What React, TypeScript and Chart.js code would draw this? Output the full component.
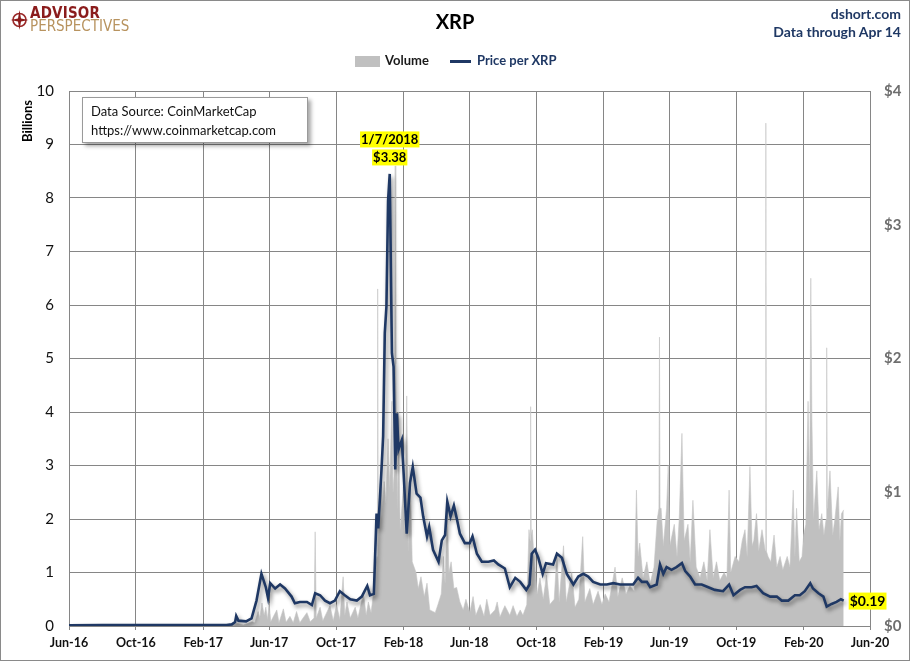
import React, { useEffect, useRef } from "react";
import { Chart, registerables } from "chart.js";

Chart.register(...registerables);

const FONT = "Lato, 'Open Sans', 'DejaVu Sans', sans-serif";
const NAVY = "#1f3864";

const tickDates = [
  "2016-06-01", "2016-10-01", "2017-02-01", "2017-06-01", "2017-10-01", "2018-02-01", "2018-06-01",
  "2018-10-01", "2019-02-01", "2019-06-01", "2019-10-01", "2020-02-01", "2020-06-01",
];
const tickLabels = [
  "Jun-16", "Oct-16", "Feb-17", "Jun-17", "Oct-17", "Feb-18", "Jun-18",
  "Oct-18", "Feb-19", "Jun-19", "Oct-19", "Feb-20", "Jun-20",
];

const priceDates = [
  "2016-06-01", "2016-08-01", "2016-10-01", "2016-12-01", "2017-02-01", "2017-03-15", "2017-03-25", "2017-03-31",
  "2017-04-02", "2017-04-06", "2017-04-20", "2017-04-30", "2017-05-09", "2017-05-18", "2017-05-26", "2017-05-30",
  "2017-06-03", "2017-06-12", "2017-06-21", "2017-06-30", "2017-07-12", "2017-07-18", "2017-07-27", "2017-08-09",
  "2017-08-18", "2017-08-24", "2017-09-02", "2017-09-11", "2017-09-20", "2017-09-29", "2017-10-08", "2017-10-17",
  "2017-10-27", "2017-11-08", "2017-11-17", "2017-11-27", "2017-12-02", "2017-12-09", "2017-12-14", "2017-12-17",
  "2017-12-23", "2017-12-26", "2017-12-29", "2018-01-01", "2018-01-04", "2018-01-07", "2018-01-11", "2018-01-14",
  "2018-01-17", "2018-01-20", "2018-01-23", "2018-01-29", "2018-02-01", "2018-02-07", "2018-02-13", "2018-02-18",
  "2018-02-25", "2018-03-04", "2018-03-09", "2018-03-16", "2018-03-20", "2018-03-27", "2018-04-06", "2018-04-12",
  "2018-04-18", "2018-04-22", "2018-04-28", "2018-05-04", "2018-05-10", "2018-05-15", "2018-05-24", "2018-06-02",
  "2018-06-07", "2018-06-15", "2018-06-24", "2018-07-06", "2018-07-16", "2018-07-24", "2018-08-05", "2018-08-14",
  "2018-08-24", "2018-09-02", "2018-09-13", "2018-09-19", "2018-09-23", "2018-09-29", "2018-10-05", "2018-10-13",
  "2018-10-19", "2018-11-01", "2018-11-08", "2018-11-17", "2018-11-26", "2018-12-08", "2018-12-17", "2018-12-26",
  "2019-01-04", "2019-01-13", "2019-01-26", "2019-02-07", "2019-02-19", "2019-03-03", "2019-03-15", "2019-03-27",
  "2019-04-05", "2019-04-12", "2019-04-21", "2019-04-27", "2019-05-09", "2019-05-15", "2019-05-21", "2019-05-27",
  "2019-06-05", "2019-06-14", "2019-06-24", "2019-06-30", "2019-07-09", "2019-07-18", "2019-07-30", "2019-08-11",
  "2019-08-23", "2019-09-07", "2019-09-18", "2019-09-26", "2019-10-08", "2019-10-17", "2019-10-29", "2019-11-07",
  "2019-11-19", "2019-12-02", "2019-12-14", "2019-12-23", "2020-01-04", "2020-01-16", "2020-01-25", "2020-02-03",
  "2020-02-13", "2020-02-18", "2020-02-28", "2020-03-08", "2020-03-14", "2020-03-23", "2020-04-01", "2020-04-09",
  "2020-04-14",
];
const priceValues = [
  0.006, 0.0065, 0.0075, 0.0065, 0.0065, 0.008, 0.012, 0.03,
  0.075, 0.04, 0.035, 0.057, 0.19, 0.39, 0.29, 0.21,
  0.32, 0.28, 0.31, 0.28, 0.22, 0.17, 0.18, 0.18,
  0.157, 0.245, 0.23, 0.19, 0.17, 0.19, 0.26, 0.23,
  0.2, 0.19, 0.22, 0.3, 0.23, 0.24, 0.84, 0.73,
  1.17, 1.42, 2.19, 2.39, 3.18, 3.38, 2.04, 1.94,
  1.17, 1.59, 1.32, 1.39, 1.17, 0.69, 1.07, 1.19,
  0.99, 0.96, 0.82, 0.67, 0.74, 0.57, 0.48, 0.64,
  0.68, 0.93, 0.82, 0.9, 0.79, 0.69, 0.62, 0.62,
  0.67, 0.54, 0.48, 0.48, 0.49, 0.46, 0.43, 0.29,
  0.36, 0.33, 0.27, 0.31, 0.54, 0.57, 0.51, 0.39,
  0.47, 0.46, 0.54, 0.51, 0.39, 0.31, 0.37, 0.39,
  0.37, 0.33, 0.31, 0.31, 0.32, 0.31, 0.31, 0.31,
  0.36, 0.33, 0.33, 0.29, 0.31, 0.46, 0.39, 0.44,
  0.42, 0.44, 0.47, 0.41, 0.37, 0.31, 0.31, 0.29,
  0.27, 0.26, 0.31, 0.23, 0.27, 0.29, 0.29, 0.3,
  0.245, 0.22, 0.22, 0.19, 0.19, 0.23, 0.23, 0.26,
  0.32, 0.28, 0.245, 0.22, 0.145, 0.165, 0.18, 0.2,
  0.19,
];

const volumeDates = [
  "2016-06-01", "2016-09-01", "2016-12-01", "2017-03-01", "2017-03-25", "2017-04-02", "2017-04-15", "2017-05-01",
  "2017-05-06", "2017-05-12", "2017-05-15", "2017-05-19", "2017-05-23", "2017-05-26", "2017-05-29", "2017-06-01",
  "2017-06-04", "2017-06-15", "2017-06-19", "2017-06-27", "2017-07-02", "2017-07-09", "2017-07-15", "2017-07-21",
  "2017-07-27", "2017-08-02", "2017-08-09", "2017-08-15", "2017-08-22", "2017-08-24", "2017-08-26", "2017-09-02",
  "2017-09-07", "2017-09-20", "2017-09-26", "2017-10-02", "2017-10-08", "2017-10-14", "2017-10-17", "2017-10-21",
  "2017-10-27", "2017-11-05", "2017-11-10", "2017-11-20", "2017-11-25", "2017-11-29", "2017-12-04", "2017-12-09",
  "2017-12-13", "2017-12-15", "2017-12-16", "2017-12-17", "2017-12-18", "2017-12-22", "2017-12-25", "2017-12-28",
  "2017-12-31", "2018-01-04", "2018-01-07", "2018-01-11", "2018-01-13", "2018-01-16", "2018-01-17", "2018-01-18",
  "2018-01-21", "2018-01-23", "2018-01-26", "2018-02-01", "2018-02-04", "2018-02-07", "2018-02-10", "2018-02-13",
  "2018-02-17", "2018-02-24", "2018-02-28", "2018-03-05", "2018-03-11", "2018-03-16", "2018-03-21", "2018-03-31",
  "2018-04-05", "2018-04-11", "2018-04-15", "2018-04-18", "2018-04-22", "2018-04-25", "2018-04-29", "2018-05-04",
  "2018-05-09", "2018-05-15", "2018-05-21", "2018-05-26", "2018-06-02", "2018-06-08", "2018-06-13", "2018-06-21",
  "2018-06-28", "2018-07-03", "2018-07-09", "2018-07-18", "2018-07-22", "2018-07-27", "2018-08-05", "2018-08-14",
  "2018-08-20", "2018-08-27", "2018-09-02", "2018-09-07", "2018-09-14", "2018-09-18", "2018-09-20", "2018-09-21",
  "2018-09-22", "2018-09-24", "2018-09-27", "2018-10-03", "2018-10-08", "2018-10-14", "2018-10-20", "2018-10-26",
  "2018-11-03", "2018-11-08", "2018-11-12", "2018-11-20", "2018-11-25", "2018-12-05", "2018-12-11", "2018-12-18",
  "2018-12-25", "2018-12-29", "2019-01-07", "2019-01-13", "2019-01-22", "2019-01-29", "2019-02-04", "2019-02-11",
  "2019-02-22", "2019-02-27", "2019-03-07", "2019-03-14", "2019-03-21", "2019-03-29", "2019-04-02", "2019-04-05",
  "2019-04-08", "2019-04-14", "2019-04-21", "2019-04-27", "2019-05-04", "2019-05-10", "2019-05-13", "2019-05-14",
  "2019-05-15", "2019-05-17", "2019-05-21", "2019-05-27", "2019-05-30", "2019-06-02", "2019-06-10", "2019-06-15",
  "2019-06-19", "2019-06-24", "2019-06-28", "2019-07-05", "2019-07-09", "2019-07-14", "2019-07-20", "2019-07-27",
  "2019-08-03", "2019-08-09", "2019-08-14", "2019-08-20", "2019-08-26", "2019-09-01", "2019-09-09", "2019-09-14",
  "2019-09-18", "2019-09-21", "2019-09-29", "2019-10-06", "2019-10-12", "2019-10-17", "2019-10-21", "2019-10-26",
  "2019-10-30", "2019-11-02", "2019-11-07", "2019-11-11", "2019-11-17", "2019-11-23", "2019-11-24", "2019-11-25",
  "2019-11-28", "2019-12-03", "2019-12-09", "2019-12-14", "2019-12-20", "2019-12-25", "2020-01-02", "2020-01-07",
  "2020-01-13", "2020-01-16", "2020-01-19", "2020-01-24", "2020-01-29", "2020-02-01", "2020-02-05", "2020-02-09",
  "2020-02-12", "2020-02-14", "2020-02-16", "2020-02-19", "2020-02-25", "2020-02-29", "2020-03-05", "2020-03-09",
  "2020-03-13", "2020-03-14", "2020-03-15", "2020-03-16", "2020-03-20", "2020-03-25", "2020-03-29", "2020-04-04",
  "2020-04-07", "2020-04-10", "2020-04-14",
];
const volumeValues = [
  0.005, 0.004, 0.005, 0.005, 0.02, 0.05, 0.02, 0.08,
  0.06, 0.27, 0.15, 0.43, 0.2, 0.35, 0.12, 0.43,
  0.08, 0.3, 0.06, 0.32, 0.07, 0.18, 0.06, 0.27,
  0.06, 0.15, 0.25, 0.08, 0.15, 1.76, 0.15, 0.35,
  0.1, 0.38, 0.1, 0.4, 0.12, 0.92, 0.2, 0.45,
  0.15, 0.35, 0.15, 0.62, 0.2, 0.45, 0.25, 0.67,
  1.2, 1.3, 6.3, 1.5, 1.5, 3.0, 2.2, 2.7,
  2.3, 3.5, 2.6, 4.2, 2.5, 3.0, 8.6, 4.9,
  2.2, 4.0, 1.8, 2.6, 1.7, 4.3, 1.4, 3.0,
  1.2, 1.0, 0.7, 0.92, 0.55, 0.8, 0.3, 0.25,
  0.4, 0.6, 1.3, 0.8, 2.2, 1.0, 1.2, 0.7,
  0.72, 0.45, 0.3, 0.5, 0.25, 0.55, 0.2, 0.4,
  0.18, 0.5, 0.2, 0.3, 0.45, 0.17, 0.38, 0.2,
  0.38, 0.18, 0.3, 0.2, 0.4, 1.8, 1.6, 4.1,
  1.7, 1.8, 1.3, 0.6, 0.9, 0.5, 0.95, 0.4,
  0.5, 1.36, 0.45, 1.5, 0.45, 1.0, 0.35, 0.5,
  1.67, 0.45, 0.7, 0.4, 0.65, 0.4, 0.6, 0.45,
  1.1, 0.55, 0.9, 0.6, 0.75, 0.65, 2.54, 1.3,
  1.55, 0.9, 1.2, 0.8, 1.1, 2.0, 2.2, 5.4,
  2.2, 2.2, 1.5, 2.2, 3.0, 1.5, 1.9, 1.3,
  2.0, 3.6, 1.6, 1.9, 1.2, 2.35, 1.1, 0.9,
  1.2, 0.85, 1.8, 0.9, 1.2, 0.85, 1.0, 0.9,
  2.54, 1.0, 1.3, 1.2, 1.6, 1.8, 1.3, 2.98,
  1.5, 1.6, 2.1, 1.4, 1.8, 1.4, 9.4, 1.4,
  1.3, 1.2, 1.7, 1.1, 1.3, 1.05, 1.3, 1.1,
  2.54, 1.3, 2.2, 1.2, 1.3, 1.7, 1.9, 4.2,
  2.5, 6.5, 3.9, 2.0, 2.9, 1.8, 2.1, 1.7,
  2.0, 5.2, 2.2, 2.3, 2.9, 1.7, 2.0, 2.6,
  1.6, 2.1, 2.17,
];

const volumeTickMax = 10;
const priceTickMax = 4;
const peakLabel = ["1/7/2018", "$3.38"];
const lastLabel = "$0.19";

function dayOf(s: string): number {
  const [y, m, d] = s.split("-").map(Number);
  return (Date.UTC(y, m - 1, d) - Date.UTC(2016, 5, 1)) / 86400000;
}

const shadowPlugin = {
  id: "lineShadow",
  beforeDatasetDraw(chart: any, args: any) {
    if (chart.data.datasets[args.index].label === "Price per XRP") {
      const ctx = chart.ctx;
      ctx.save();
      ctx.shadowColor = "rgba(0,0,0,0.45)";
      ctx.shadowBlur = 4;
      ctx.shadowOffsetX = 2;
      ctx.shadowOffsetY = 3;
    }
  },
  afterDatasetDraw(chart: any, args: any) {
    if (chart.data.datasets[args.index].label === "Price per XRP") {
      chart.ctx.restore();
    }
  },
};

function drawHighlight(ctx: CanvasRenderingContext2D, text: string, x: number, y: number, align: "center" | "left", size: number) {
  ctx.font = `bold ${size}px ${FONT}`;
  const w = ctx.measureText(text).width;
  const left = align === "center" ? x - w / 2 : x;
  ctx.fillStyle = "#ffff00";
  ctx.fillRect(left - 1, y - size / 2 - 1, w + 2, size + 3);
  ctx.fillStyle = "#000";
  ctx.textBaseline = "middle";
  ctx.textAlign = "left";
  ctx.fillText(text, left, y + 1);
}

const labelPlugin = {
  id: "valueLabels",
  afterDatasetsDraw(chart: any) {
    const ctx = chart.ctx;
    const xs = chart.scales.x;
    const ys = chart.scales.y1;
    let pi = 0;
    priceValues.forEach((v, i) => { if (v > priceValues[pi]) pi = i; });
    const px = xs.getPixelForValue(dayOf(priceDates[pi]));
    const py = ys.getPixelForValue(priceValues[pi]);
    ctx.save();
    drawHighlight(ctx, peakLabel[0], px, py - 35, "center", 13);
    drawHighlight(ctx, peakLabel[1], px, py - 17, "center", 13);
    const li = priceValues.length - 1;
    const lx = xs.getPixelForValue(dayOf(priceDates[li]));
    const ly = ys.getPixelForValue(priceValues[li]);
    drawHighlight(ctx, lastLabel, lx + 6, ly, "left", 14);
    ctx.restore();
  },
};

export default function App() {
  const ref = useRef<HTMLCanvasElement>(null);

  useEffect(() => {
    if (!ref.current) return;
    const tickDays = tickDates.map(dayOf);
    const chart = new Chart(ref.current, {
      type: "line",
      data: {
        datasets: [
          {
            label: "Price per XRP",
            data: priceDates.map((d, i) => ({ x: dayOf(d), y: priceValues[i] })),
            yAxisID: "y1",
            borderColor: NAVY,
            borderWidth: 2.6,
            pointRadius: 0,
            tension: 0,
            fill: false,
            order: 0,
          },
          {
            label: "Volume",
            data: volumeDates.map((d, i) => ({ x: dayOf(d), y: volumeValues[i] })),
            yAxisID: "y",
            borderColor: "#c4c4c4",
            borderWidth: 0.6,
            backgroundColor: "#c0c0c0",
            pointRadius: 0,
            tension: 0,
            fill: "origin",
            order: 1,
          },
        ],
      },
      options: {
        responsive: false,
        animation: false,
        layout: { padding: { top: 91, left: 0, right: 0, bottom: 0 } },
        plugins: { legend: { display: false }, tooltip: { enabled: false }, title: { display: false } },
        scales: {
          x: {
            type: "linear",
            min: tickDays[0],
            max: tickDays[tickDays.length - 1],
            afterBuildTicks: (s: any) => { s.ticks = tickDays.map((v) => ({ value: v })); },
            afterFit: (s: any) => { s.height = 35; },
            ticks: {
              autoSkip: false,
              maxRotation: 0,
              padding: 5,
              color: "#111",
              font: { family: FONT, size: 12.5, weight: "bold" },
              callback: (_v: any, i: number) => tickLabels[i],
            },
            grid: { color: "#868686", lineWidth: 1, tickLength: 4, drawTicks: true },
            border: { color: "#868686" },
          },
          y: {
            position: "left",
            min: 0,
            max: volumeTickMax,
            afterFit: (s: any) => { s.width = 69; },
            ticks: { stepSize: 1, padding: 15, color: "#111", font: { family: FONT, size: 15 } },
            grid: { color: "#868686", lineWidth: 1, drawTicks: false },
            border: { color: "#868686" },
          },
          y1: {
            position: "right",
            min: 0,
            max: priceTickMax,
            afterFit: (s: any) => { s.width = 40; },
            ticks: {
              stepSize: 1,
              padding: 14,
              color: "#6e6e6e",
              font: { family: FONT, size: 15, weight: "bold" },
              callback: (v: any) => `$${v}`,
            },
            grid: { display: false, drawTicks: false },
            border: { color: "#868686" },
          },
        },
      },
      plugins: [shadowPlugin, labelPlugin],
    } as any);
    return () => chart.destroy();
  }, []);

  const abs = (o: React.CSSProperties): React.CSSProperties => ({ position: "absolute", whiteSpace: "nowrap", ...o });

  return (
    <div style={{ position: "absolute", left: 0, top: 0, width: 910, height: 661, background: "#fff", fontFamily: FONT, overflow: "hidden" }}>
      <canvas ref={ref} width={910} height={661} style={{ position: "absolute", left: 0, top: 0, display: "block" }} />
      <div style={abs({ left: 0, top: 0, width: 910, height: 661, boxSizing: "border-box", border: "1px solid #8a8a8a", pointerEvents: "none" })} />
      <svg style={abs({ left: 10, top: 9 })} width="19" height="22" viewBox="0 0 19 22">
        <circle cx="9.5" cy="11" r="6.5" fill="none" stroke="#9b2a2a" strokeWidth="1.6" />
        <path d="M9.5 1 L11 9.5 L18.5 11 L11 12.5 L9.5 21 L8 12.5 L0.5 11 L8 9.5 Z" fill="#8b1a1a" />
      </svg>
      <div style={abs({ left: 30, top: 6, fontFamily: "'Liberation Sans Narrow', 'DejaVu Sans Condensed', sans-serif", fontWeight: "bold", fontSize: 15, color: "#8b1c1c", lineHeight: "15px", letterSpacing: 0.2 })}>ADVISOR</div>
      <div style={abs({ left: 30, top: 19, fontFamily: "'Liberation Sans Narrow', 'DejaVu Sans Condensed', sans-serif", fontSize: 15, color: "#b8935f", lineHeight: "15px" })}>PERSPECTIVES</div>
      <div style={abs({ left: 0, width: 910, top: 9, textAlign: "center", fontWeight: "bold", fontSize: 20, color: "#000" })}>XRP</div>
      <div style={abs({ right: 9, top: 5, fontWeight: "bold", fontSize: 14, color: NAVY, textAlign: "right" })}>dshort.com</div>
      <div style={abs({ right: 9, top: 23, fontWeight: "bold", fontSize: 14, color: NAVY, textAlign: "right" })}>Data through Apr 14</div>
      <div style={abs({ left: 355, top: 56, width: 25, height: 11, background: "#c0c0c0" })} />
      <div style={abs({ left: 385, top: 52, fontWeight: "bold", fontSize: 13, color: "#1a1a1a" })}>Volume</div>
      <div style={abs({ left: 450, top: 60, width: 21, height: 3, background: NAVY })} />
      <div style={abs({ left: 477, top: 52, fontWeight: "bold", fontSize: 13, color: NAVY })}>Price per XRP</div>
      <div style={abs({ left: 20, top: 142, transform: "rotate(-90deg)", transformOrigin: "left top", fontWeight: "bold", fontSize: 13, color: "#000", lineHeight: "14px" })}>Billions</div>
      <div style={abs({ left: 82, top: 97, width: 226, height: 46, boxSizing: "border-box", background: "#fff", border: "1px solid #9a9a9a", boxShadow: "3px 3px 4px rgba(0,0,0,0.35)", padding: "4px 0 0 8px", fontSize: 13, color: "#111", lineHeight: "19px" })}>
        <div>Data Source: CoinMarketCap</div>
        <div>https://www.coinmarketcap.com</div>
      </div>
    </div>
  );
}
